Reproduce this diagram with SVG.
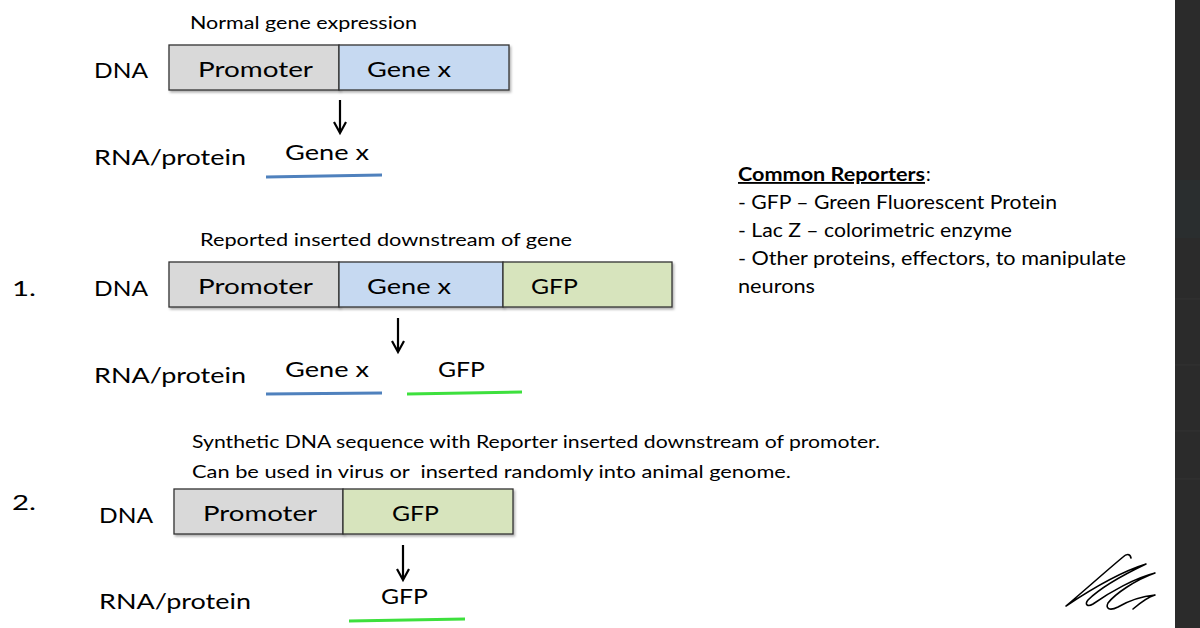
<svg xmlns="http://www.w3.org/2000/svg" width="1200" height="628" viewBox="0 0 1200 628">
<style>
text{font-family:Lato,"Open Sans","Liberation Sans",sans-serif;fill:#000}
.lab{font-size:22px}
.box{font-size:22px}
.cap{font-size:17.5px}
.rep{font-size:18.5px}
.gr{fill:#d9d9d9;stroke:#333;stroke-width:1.3}
.bl{fill:#c6d9f1;stroke:#333;stroke-width:1.3}
.gn{fill:#d7e4bd;stroke:#333;stroke-width:1.3}
.arr{stroke:#000;stroke-width:2.2;fill:none}
.ub{stroke:#4f81bd;stroke-width:3}
.ug{stroke:#3de03d;stroke-width:3}
</style>
<defs>
<filter id="sh" x="-5%" y="-10%" width="110%" height="130%">
<feDropShadow dx="1.5" dy="2" stdDeviation="1.2" flood-color="#000" flood-opacity="0.3"/>
</filter>
</defs>
<rect width="1200" height="628" fill="#fff"/>
<rect x="1175" y="0" width="25" height="628" fill="#2b2b2b"/>
<rect x="1175" y="180" width="25" height="58" fill="#2a2e2f"/>
<g stroke="#363636" stroke-width="0.8">
<line x1="1175" y1="299" x2="1200" y2="299"/>
<line x1="1175" y1="365" x2="1200" y2="365"/>
<line x1="1175" y1="431" x2="1200" y2="431"/>
<line x1="1175" y1="479" x2="1200" y2="479"/>
</g>

<g id="section0">
<text class="cap" x="190" y="29" textLength="227" lengthAdjust="spacingAndGlyphs">Normal gene expression</text>
<text class="lab" x="94" y="78" textLength="54" lengthAdjust="spacingAndGlyphs">DNA</text>
<g id="s0-promoter" filter="url(#sh)">
<rect class="gr" x="169" y="45" width="170" height="45"/>
</g>
<g id="s0-genex" filter="url(#sh)">
<rect class="bl" x="339" y="45" width="170" height="45"/>
</g>
<text class="box" x="198" y="77" textLength="115" lengthAdjust="spacingAndGlyphs">Promoter</text>
<text class="box" x="367" y="77" textLength="84" lengthAdjust="spacingAndGlyphs">Gene x</text>
<text class="lab" x="94" y="165" textLength="152" lengthAdjust="spacingAndGlyphs">RNA/protein</text>
<text class="box" x="285" y="160" textLength="84" lengthAdjust="spacingAndGlyphs">Gene x</text>
</g>

<g id="section1">
<text class="cap" x="200" y="246" textLength="372" lengthAdjust="spacingAndGlyphs">Reported inserted downstream of gene</text>
<text class="lab" x="12" y="296" textLength="24" lengthAdjust="spacingAndGlyphs">1.</text>
<text class="lab" x="94" y="296" textLength="54" lengthAdjust="spacingAndGlyphs">DNA</text>
<g id="s1-promoter" filter="url(#sh)">
<rect class="gr" x="169" y="262" width="170" height="45"/>
</g>
<g id="s1-genex" filter="url(#sh)">
<rect class="bl" x="339" y="262" width="164" height="45"/>
</g>
<g id="s1-gfp" filter="url(#sh)">
<rect class="gn" x="503" y="262" width="169" height="45"/>
</g>
<text class="box" x="198" y="294" textLength="115" lengthAdjust="spacingAndGlyphs">Promoter</text>
<text class="box" x="367" y="294" textLength="84" lengthAdjust="spacingAndGlyphs">Gene x</text>
<text class="box" x="531" y="294" textLength="47" lengthAdjust="spacingAndGlyphs">GFP</text>
<text class="lab" x="94" y="383" textLength="152" lengthAdjust="spacingAndGlyphs">RNA/protein</text>
<text class="box" x="285" y="377" textLength="84" lengthAdjust="spacingAndGlyphs">Gene x</text>
<text class="box" x="438" y="377" textLength="47" lengthAdjust="spacingAndGlyphs">GFP</text>
</g>

<g id="section2">
<text class="cap" x="192" y="448" textLength="688" lengthAdjust="spacingAndGlyphs">Synthetic DNA sequence with Reporter inserted downstream of promoter.</text>
<text class="cap" x="192" y="478" textLength="599" lengthAdjust="spacingAndGlyphs" xml:space="preserve">Can be used in virus or  inserted randomly into animal genome.</text>
<text class="lab" x="12" y="510" textLength="24" lengthAdjust="spacingAndGlyphs">2.</text>
<text class="lab" x="99" y="523" textLength="54" lengthAdjust="spacingAndGlyphs">DNA</text>
<g id="s2-promoter" filter="url(#sh)">
<rect class="gr" x="174" y="489" width="169" height="45"/>
</g>
<g id="s2-gfp" filter="url(#sh)">
<rect class="gn" x="343" y="489" width="170" height="45"/>
</g>
<text class="box" x="203" y="521" textLength="114" lengthAdjust="spacingAndGlyphs">Promoter</text>
<text class="box" x="392" y="521" textLength="47" lengthAdjust="spacingAndGlyphs">GFP</text>
<text class="lab" x="99" y="609" textLength="152" lengthAdjust="spacingAndGlyphs">RNA/protein</text>
<text class="box" x="381" y="604" textLength="47" lengthAdjust="spacingAndGlyphs">GFP</text>
</g>

<g id="reporters">
<text class="rep" x="738" y="181" font-weight="bold" text-decoration="underline" textLength="187" lengthAdjust="spacingAndGlyphs">Common Reporters</text>
<text class="rep" x="926" y="181">:</text>
<text class="rep" x="738" y="209" textLength="319" lengthAdjust="spacingAndGlyphs">- GFP – Green Fluorescent Protein</text>
<text class="rep" x="738" y="237" textLength="274" lengthAdjust="spacingAndGlyphs">- Lac Z – colorimetric enzyme</text>
<text class="rep" x="738" y="265" textLength="388" lengthAdjust="spacingAndGlyphs">- Other proteins, effectors, to manipulate</text>
<text class="rep" x="738" y="293" textLength="77" lengthAdjust="spacingAndGlyphs">neurons</text>
</g>

<g id="connectors">
<line class="arr" x1="340" y1="100" x2="340" y2="132"/>
<polyline class="arr" points="334,122 340,133 346,122"/>
<line class="arr" x1="398" y1="318" x2="398" y2="351"/>
<polyline class="arr" points="392,341 398,352 404,341"/>
<line class="arr" x1="403" y1="545" x2="403" y2="579"/>
<polyline class="arr" points="397,569 403,580 409,569"/>
<line class="ub" x1="266" y1="177" x2="382" y2="175"/>
<line class="ub" x1="266" y1="394" x2="382" y2="393"/>
<line class="ug" x1="407" y1="394" x2="522" y2="392"/>
<line class="ug" x1="349" y1="621" x2="465" y2="619"/>
</g>

<g id="scribble">
<path d="M1131,558 C1130,553 1126,554 1123,557 C1105,572 1085,590 1066,606 C1090,590 1120,572 1146,564 C1125,574 1100,588 1088,600 C1084,605 1088,607 1093,604 C1110,592 1135,578 1155,573 C1135,580 1115,594 1108,603 C1105,609 1110,611 1118,607 C1130,600 1145,596 1155,595 C1148,597 1140,603 1133,609" fill="none" stroke="#000" stroke-width="1.6" stroke-linejoin="round" stroke-linecap="round"/>
</g>
</svg>
